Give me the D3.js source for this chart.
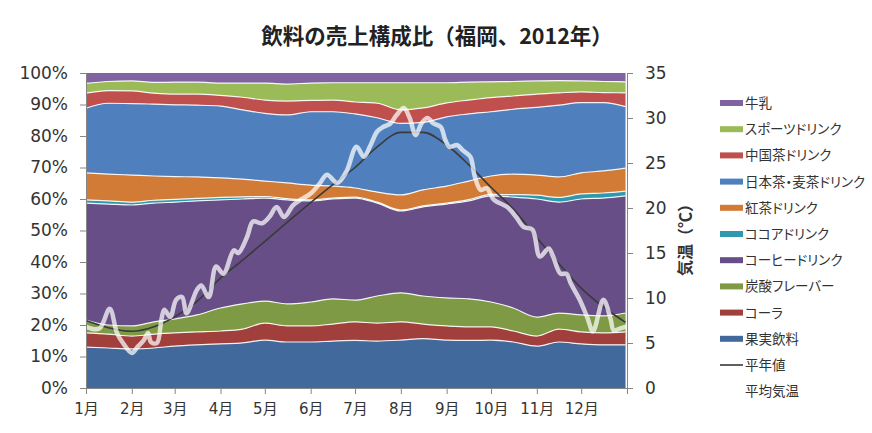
<!DOCTYPE html>
<html>
<head>
<meta charset="utf-8">
<script src="https://cdnjs.cloudflare.com/ajax/libs/d3/7.8.5/d3.min.js"></script>
<style>
  html, body { margin: 0; padding: 0; background: #fff; }
  svg text { fill: #333; }
  .num { font-family: 'DejaVu Sans', 'Noto Sans CJK JP', sans-serif; }
  .jp { font-family: 'Noto Sans CJK JP', sans-serif; font-feature-settings: 'palt'; }
</style>
</head>
<body>
<div id="hook-chart"></div>
<script>
'use strict';

(function() {

// day of year (2012) of each sample
var sampleDays = [0, 15, 31, 46, 60, 75, 91, 106, 121, 136, 152, 167, 182,
  197, 213, 228, 244, 259, 274, 289, 305, 320, 335, 350, 365];

// shares in % (bottom to top of the stack)
var fruit       = [13.0, 12.7, 12.4, 12.7, 13.3, 13.7, 14.0, 14.3, 15.2, 14.6, 14.6, 14.9, 15.1, 14.9, 15.2, 15.7, 15.2, 15.1, 15.2, 14.6, 13.3, 14.6, 14.0, 13.7, 13.7];
var cola        = [4.5, 4.4, 4.1, 4.4, 4.2, 4.1, 4.1, 4.4, 5.4, 5.1, 5.1, 5.4, 5.9, 5.7, 5.8, 4.6, 4.5, 4.3, 4.2, 3.5, 3.2, 4.1, 3.8, 3.8, 4.1];
var flavor      = [4.1, 2.9, 3.2, 3.9, 4.4, 5.4, 7.3, 8.0, 7.0, 7.0, 7.6, 8.0, 6.9, 8.6, 9.2, 8.9, 8.9, 8.9, 7.9, 7.3, 6.0, 5.1, 5.4, 5.4, 6.0];
var coffee      = [37.1, 38.4, 38.4, 37.7, 37.1, 36.2, 34.3, 33.3, 32.7, 33.0, 32.1, 31.7, 32.4, 29.5, 26.0, 28.3, 29.8, 31.1, 33.7, 35.2, 37.5, 35.2, 36.8, 37.4, 37.2];
var cocoa       = [1.0, 1.0, 0.9, 0.9, 0.9, 0.8, 0.8, 0.7, 0.5, 0.4, 0.3, 0.3, 0.3, 0.3, 0.3, 0.3, 0.3, 0.4, 0.5, 0.8, 1.2, 1.5, 1.6, 1.6, 1.5];
var blackTea    = [8.6, 8.5, 8.6, 7.7, 7.2, 6.8, 6.2, 5.6, 4.9, 5.0, 4.7, 3.8, 2.9, 3.2, 4.8, 5.1, 5.4, 5.9, 5.8, 6.5, 6.4, 6.5, 6.7, 7.0, 7.3];
var japaneseTea = [20.5, 22.5, 22.7, 22.8, 22.8, 22.8, 22.8, 22.0, 21.5, 21.6, 23.3, 23.6, 23.5, 23.6, 22.7, 21.4, 22.0, 21.3, 20.4, 20.6, 21.5, 22.8, 22.3, 21.7, 19.5];
var chineseTea  = [4.8, 4.0, 4.0, 3.5, 3.4, 3.5, 3.4, 4.0, 4.2, 4.4, 3.6, 3.7, 3.8, 4.6, 4.3, 4.6, 4.4, 4.4, 4.5, 4.2, 4.2, 3.9, 3.4, 3.2, 4.4];
var sports      = [3.1, 2.9, 3.2, 3.4, 3.8, 3.8, 3.9, 4.5, 5.4, 5.4, 5.5, 5.5, 6.1, 6.5, 8.6, 8.0, 6.4, 5.7, 5.0, 4.6, 4.2, 3.9, 3.5, 3.5, 3.5];
var milk        = [3.3, 2.7, 2.5, 3.0, 2.9, 2.9, 3.2, 3.2, 3.2, 3.5, 3.2, 3.1, 3.1, 3.1, 3.1, 3.1, 3.1, 2.9, 2.8, 2.7, 2.5, 2.4, 2.5, 2.7, 2.8];

var seriesNames = ['果実飲料', 'コーラ', '炭酸フレーバー', 'コーヒードリンク', 'ココアドリンク',
  '紅茶ドリンク', '日本茶・麦茶ドリンク', '中国茶ドリンク', 'スポーツドリンク', '牛乳'];
var seriesValues = [fruit, cola, flavor, coffee, cocoa, blackTea, japaneseTea, chineseTea, sports, milk];

// normal temperature (平年値), same sample days
var normalTemp = [7.5, 6.7, 6.3, 6.8, 7.9, 9.6, 12.2, 14.2, 16.3, 18.4, 20.6, 22.6, 24.5,
  26.8, 28.4, 28.4, 27.0, 24.8, 22.3, 19.9, 16.7, 13.8, 11.1, 9.0, 7.3];

// mean temperature 2012 (平均気温)
var tempDays = [0, 9, 16, 21, 25, 31, 35, 39, 42, 44, 48, 51, 53, 57, 61, 65, 68, 75, 78, 83,
  88, 93, 100, 103, 109, 113, 119, 124, 129, 134, 140, 145, 152, 158, 163, 170, 176, 183, 188, 192,
  197, 201, 206, 210, 215, 219, 223, 227, 231, 235, 240, 243, 246, 251, 255, 260, 263, 267, 271, 276,
  285, 291, 296, 302, 307, 313, 316, 321, 325, 328, 334, 339, 343, 350, 355, 357, 361, 365];
var tempValues = [6.8, 6.6, 8.8, 6.1, 5.0, 3.9, 4.6, 5.3, 6.1, 5.1, 5.0, 7.6, 8.7, 7.9, 9.8, 10.1, 8.3, 10.9, 11.4, 10.1,
  13.5, 12.7, 15.3, 15.0, 16.8, 18.5, 18.3, 19.0, 20.1, 19.0, 20.3, 20.9, 21.6, 22.7, 23.7, 22.8, 24.0, 26.8, 25.7, 26.8,
  28.5, 29.0, 29.4, 30.3, 31.1, 30.0, 28.1, 29.4, 30.0, 29.4, 29.0, 27.6, 26.8, 27.0, 26.4, 25.7, 23.5, 22.0, 22.2, 20.9,
  20.1, 19.0, 17.9, 17.6, 14.6, 15.5, 14.6, 12.7, 12.7, 11.6, 9.8, 7.9, 6.3, 9.8, 7.6, 6.4, 6.6, 6.8];

var monthLabels = ['1月', '2月', '3月', '4月', '5月', '6月', '7月', '8月', '9月', '10月', '11月', '12月'];
var pctTicks = [0, 0.1, 0.2, 0.3, 0.4, 0.5, 0.6, 0.7, 0.8, 0.9, 1];
var tempTicks = [0, 5, 10, 15, 20, 25, 30, 35];

var colors = ['#41699c', '#a13f3d', '#7e9a45', '#674e86', '#2f98ad',
  '#d27b37', '#4f80bd', '#c0504d', '#9bbb59', '#8064a2'];

var options = {
  width: 872,
  height: 433,
  left: 86,
  right: 627,
  top: 73,
  bottom: 388
};

function dayDate(d) { return new Date(2012, 0, 1 + d); }

function update(options) {

  var svg = d3.select('#hook-chart')
    .append('svg')
    .attr('width', options.width)
    .attr('height', options.height);

  var x = d3.scaleTime()
    .domain([new Date(2012, 0, 1), new Date(2013, 0, 1)])
    .range([options.left, options.right]);
  var y = d3.scaleLinear().domain([0, 1]).range([options.bottom, options.top]);
  var yT = d3.scaleLinear().domain([0, 35]).range([options.bottom, options.top]);

  // table for the stack
  var rows = sampleDays.map(function(d, i) {
    var row = { date: dayDate(d) };
    seriesNames.forEach(function(name, k) { row[name] = seriesValues[k][i]; });
    return row;
  });

  var stacked = d3.stack()
    .keys(seriesNames)
    .offset(d3.stackOffsetExpand)(rows);

  var area = d3.area()
    .x(function(d) { return x(d.data.date); })
    .y0(function(d) { return y(d[0]); })
    .y1(function(d) { return y(d[1]); })
    .curve(d3.curveMonotoneX);

  var topLine = d3.line()
    .x(function(d) { return x(d.data.date); })
    .y(function(d) { return y(d[1]); })
    .curve(d3.curveMonotoneX);

  var plot = svg.append('g');

  plot.selectAll('path.band')
    .data(stacked)
    .enter().append('path')
    .attr('class', 'band')
    .attr('d', area)
    .style('fill', function(d, i) { return colors[i]; })
    .style('stroke', 'none');

  plot.selectAll('path.edge')
    .data(stacked.slice(0, stacked.length - 1))
    .enter().append('path')
    .attr('class', 'edge')
    .attr('d', topLine)
    .style('fill', 'none')
    .style('stroke', '#fff')
    .style('stroke-width', 1.2)
    .style('stroke-opacity', 0.9);

  // temperature lines
  var normalLine = d3.line()
    .x(function(d, i) { return x(dayDate(sampleDays[i])); })
    .y(function(d) { return yT(d); })
    .curve(d3.curveMonotoneX);

  plot.append('path')
    .attr('d', normalLine(normalTemp))
    .style('fill', 'none')
    .style('stroke', '#3a3a3a')
    .style('stroke-width', 1.6);

  var tempLine = d3.line()
    .x(function(d, i) { return x(dayDate(tempDays[i])); })
    .y(function(d) { return yT(d); })
    .curve(d3.curveCatmullRom);

  plot.append('path')
    .attr('d', tempLine(tempValues))
    .style('fill', 'none')
    .style('stroke', '#fff')
    .style('stroke-opacity', 0.72)
    .style('stroke-width', 4.5)
    .style('stroke-linejoin', 'round')
    .style('stroke-linecap', 'round');

  // axes
  var leftAxis = svg.append('g')
    .attr('class', 'num')
    .attr('transform', 'translate(' + options.left + ',0)')
    .call(d3.axisLeft(y).tickValues(pctTicks).tickFormat(d3.format('.0%')).tickSizeOuter(0).tickSize(6).tickPadding(12));

  var rightAxis = svg.append('g')
    .attr('class', 'num')
    .attr('transform', 'translate(' + options.right + ',0)')
    .call(d3.axisRight(yT).tickValues(tempTicks).tickSizeOuter(0).tickSize(6).tickPadding(12));

  var bottomAxis = svg.append('g')
    .attr('class', 'num')
    .attr('transform', 'translate(0,' + options.bottom + ')')
    .call(d3.axisBottom(x).ticks(d3.timeMonth.every(1)).tickSizeOuter(0).tickSize(6).tickPadding(9)
      .tickFormat(function(d) { return d.getFullYear() === 2012 ? monthLabels[d.getMonth()] : ''; }));

  [leftAxis, rightAxis, bottomAxis].forEach(function(g) {
    g.selectAll('.domain').style('stroke', '#868686').style('stroke-width', 1);
    g.selectAll('.tick line').style('stroke', '#868686');
    g.selectAll('text').style('font-size', '17px').style('fill', '#333');
  });
  bottomAxis.selectAll('text').style('font-size', '15px');

  // title
  svg.append('text')
    .attr('class', 'jp')
    .attr('x', 437)
    .attr('y', 44)
    .attr('text-anchor', 'middle')
    .style('font-size', '21.5px')
    .style('font-weight', 'bold')
    .style('font-feature-settings', 'normal')
    .style('fill', '#222')
    .text('飲料の売上構成比（福岡、2012年）');

  // right axis title
  svg.append('text')
    .attr('class', 'jp')
    .attr('transform', 'translate(691,236) rotate(-90)')
    .attr('text-anchor', 'middle')
    .style('font-size', '16px')
    .style('font-weight', 'bold')
    .style('font-feature-settings', 'normal')
    .style('fill', '#333')
    .text('気温（℃）');

  // legend
  var legendItems = seriesNames.map(function(name, i) {
    return { name: name, color: colors[i], type: 'area' };
  }).reverse();
  legendItems.push({ name: '平年値', color: '#3a3a3a', type: 'line' });
  legendItems.push({ name: '平均気温', color: '#fff', type: 'line' });

  var legend = svg.append('g').attr('transform', 'translate(720,103)');
  var item = legend.selectAll('g')
    .data(legendItems)
    .enter().append('g')
    .attr('transform', function(d, i) { return 'translate(0,' + (i * 26.2) + ')'; });

  item.append('rect')
    .attr('x', 0)
    .attr('y', function(d) { return d.type === 'area' ? -3 : -0.8; })
    .attr('width', 23)
    .attr('height', function(d) { return d.type === 'area' ? 6 : 1.6; })
    .style('fill', function(d) { return d.color; });

  item.append('text')
    .attr('class', 'jp')
    .attr('x', 25)
    .attr('y', 5)
    .style('font-size', '13.5px')
    .style('fill', '#333')
    .text(function(d) { return d.name; });
}

update(options);

}());
</script>
</body>
</html>
